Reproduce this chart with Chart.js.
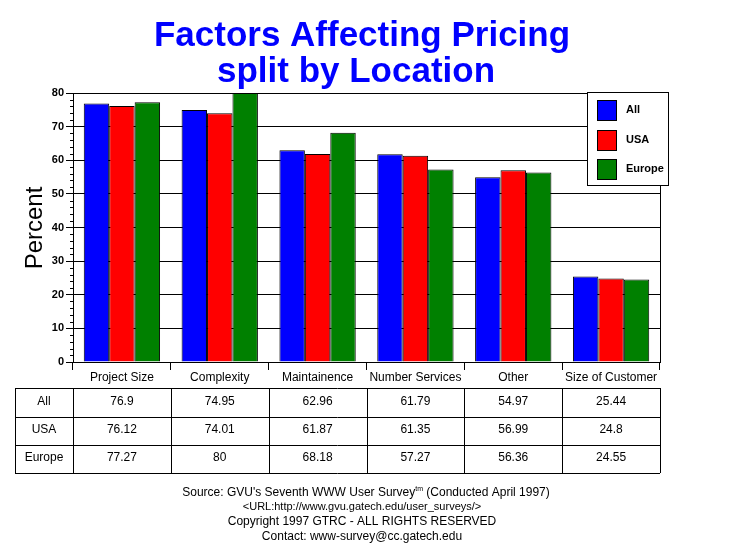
<!DOCTYPE html>
<html>
<head>
<meta charset="utf-8">
<script src="https://cdn.jsdelivr.net/npm/chart.js@4.4.1/dist/chart.umd.min.js"></script>
<style>
  html, body { margin: 0; padding: 0; background: #fff; }
  #wrap { width: 729px; height: 553px; }
</style>
</head>
<body>
<div id="wrap"><canvas id="chart" width="729" height="553"></canvas></div>
<script>
const categories = ["Project Size", "Complexity", "Maintainence", "Number Services", "Other", "Size of Customer"];
const allValues = [76.9, 74.95, 62.96, 61.79, 54.97, 25.44];
const usaValues = [76.12, 74.01, 61.87, 61.35, 56.99, 24.8];
const europeValues = [77.27, 80, 68.18, 57.27, 56.36, 24.55];
const seriesNames = ["All", "USA", "Europe"];
const seriesColors = ["#0000ff", "#ff0000", "#008000"];
const titleLines = ["Factors Affecting Pricing", "split by Location"];
const footerLines = [
    "<URL:http://www.gvu.gatech.edu/user_surveys/>",
    "Copyright 1997 GTRC - ALL RIGHTS RESERVED",
    "Contact: www-survey@cc.gatech.edu"
];

const FONT = "'Liberation Sans', Arial, sans-serif";
const seriesValues = [allValues, usaValues, europeValues];

const extras = {
    id: 'extras',
    afterDraw(chart) {
        const ctx = chart.ctx;
        const area = chart.chartArea;
        const x = chart.scales.x;
        const y = chart.scales.y;
        ctx.save();

        // title
        ctx.fillStyle = '#0000ff';
        ctx.font = 'bold 35px ' + FONT;
        ctx.textAlign = 'center';
        ctx.textBaseline = 'alphabetic';
        ctx.fillText(titleLines[0], 362, 46);
        ctx.fillText(titleLines[1], 356, 82);

        // y axis label
        ctx.fillStyle = '#000';
        ctx.font = '24px ' + FONT;
        ctx.save();
        ctx.translate(35, 228);
        ctx.rotate(-Math.PI / 2);
        ctx.textBaseline = 'middle';
        ctx.fillText('Percent', 0, 0);
        ctx.restore();

        // minor ticks and right border
        ctx.strokeStyle = '#000';
        ctx.lineWidth = 1;
        ctx.beginPath();
        for (let v = 0; v <= 80; v += 2) {
            if (v % 10 === 0) continue;
            const py = Math.round(y.getPixelForValue(v)) + 0.5;
            ctx.moveTo(area.left - 3, py);
            ctx.lineTo(area.left, py);
        }
        ctx.moveTo(Math.round(area.right) + 0.5, area.top);
        ctx.lineTo(Math.round(area.right) + 0.5, area.bottom);
        ctx.stroke();

        // legend
        const lx = 587, ly = 92, lw = 81, lh = 93;
        ctx.fillStyle = '#fff';
        ctx.fillRect(lx, ly, lw, lh);
        ctx.strokeRect(lx + 0.5, ly + 0.5, lw, lh);
        ctx.font = 'bold 11px ' + FONT;
        ctx.textAlign = 'left';
        ctx.textBaseline = 'middle';
        seriesNames.forEach((name, i) => {
            const sy = 100 + i * 29.5;
            ctx.fillStyle = seriesColors[i];
            ctx.fillRect(597, Math.round(sy), 19, 20);
            ctx.strokeRect(597.5, Math.round(sy) + 0.5, 19, 20);
            ctx.fillStyle = '#000';
            ctx.fillText(name, 626, sy + 10);
        });

        // data table
        const rows = [388, 417, 445, 473];
        const bounds = [15, area.left];
        const step = (area.right - area.left) / categories.length;
        for (let i = 1; i <= categories.length; i++) bounds.push(area.left + step * i);
        ctx.beginPath();
        rows.forEach(r => {
            ctx.moveTo(bounds[0], r + 0.5);
            ctx.lineTo(bounds[bounds.length - 1], r + 0.5);
        });
        bounds.forEach(b => {
            const bx = Math.round(b) + 0.5;
            ctx.moveTo(bx, rows[0]);
            ctx.lineTo(bx, rows[rows.length - 1]);
        });
        ctx.stroke();
        ctx.font = '12px ' + FONT;
        ctx.textAlign = 'center';
        ctx.fillStyle = '#000';
        seriesNames.forEach((name, r) => {
            const cy = (rows[r] + rows[r + 1]) / 2 - 1;
            ctx.fillText(name, (bounds[0] + bounds[1]) / 2, cy);
            seriesValues[r].forEach((v, c) => {
                ctx.fillText(String(v), x.getPixelForValue(c), cy);
            });
        });

        // footer
        ctx.font = '12px ' + FONT;
        const src1 = "Source: GVU's Seventh WWW User Survey";
        const src2 = " (Conducted April 1997)";
        const w1 = ctx.measureText(src1).width;
        ctx.font = '7px ' + FONT;
        const wt = ctx.measureText('tm').width;
        ctx.font = '12px ' + FONT;
        const w2 = ctx.measureText(src2).width;
        let sx = 366 - (w1 + wt + w2) / 2;
        ctx.textAlign = 'left';
        ctx.fillText(src1, sx, 493);
        ctx.font = '7px ' + FONT;
        ctx.fillText('tm', sx + w1, 489);
        ctx.font = '12px ' + FONT;
        ctx.fillText(src2, sx + w1 + wt, 493);
        ctx.textAlign = 'center';
        ctx.font = '11px ' + FONT;
        ctx.fillText(footerLines[0], 362, 507);
        ctx.font = '12px ' + FONT;
        ctx.fillText(footerLines[1], 362, 522);
        ctx.fillText(footerLines[2], 362, 537);

        ctx.restore();
    }
};

new Chart(document.getElementById('chart'), {
    type: 'bar',
    data: {
        labels: categories,
        datasets: seriesNames.map((name, i) => ({
            label: name,
            data: seriesValues[i],
            backgroundColor: seriesColors[i],
            borderColor: '#000',
            borderWidth: 1,
            barPercentage: 1,
            categoryPercentage: 0.78
        }))
    },
    options: {
        responsive: false,
        animation: false,
        events: [],
        layout: { padding: { top: 93, right: 69, left: 0, bottom: 0 } },
        plugins: {
            legend: { display: false },
            title: { display: false },
            tooltip: { enabled: false }
        },
        scales: {
            x: {
                offset: true,
                grid: { display: true, drawOnChartArea: false, color: '#000', tickLength: 8, offset: true },
                border: { display: true, color: '#000' },
                ticks: { color: '#000', font: { family: FONT, size: 12 }, padding: 0, maxRotation: 0, autoSkip: false },
                afterFit: s => { s.height = 191; }
            },
            y: {
                min: 0,
                max: 80,
                ticks: { stepSize: 10, color: '#000', font: { family: FONT, size: 11, weight: 'bold' }, padding: 2 },
                grid: { color: '#000', tickLength: 7 },
                border: { display: true, color: '#000' },
                afterFit: s => { s.width = 73; }
            }
        }
    },
    plugins: [extras]
});
</script>
</body>
</html>
